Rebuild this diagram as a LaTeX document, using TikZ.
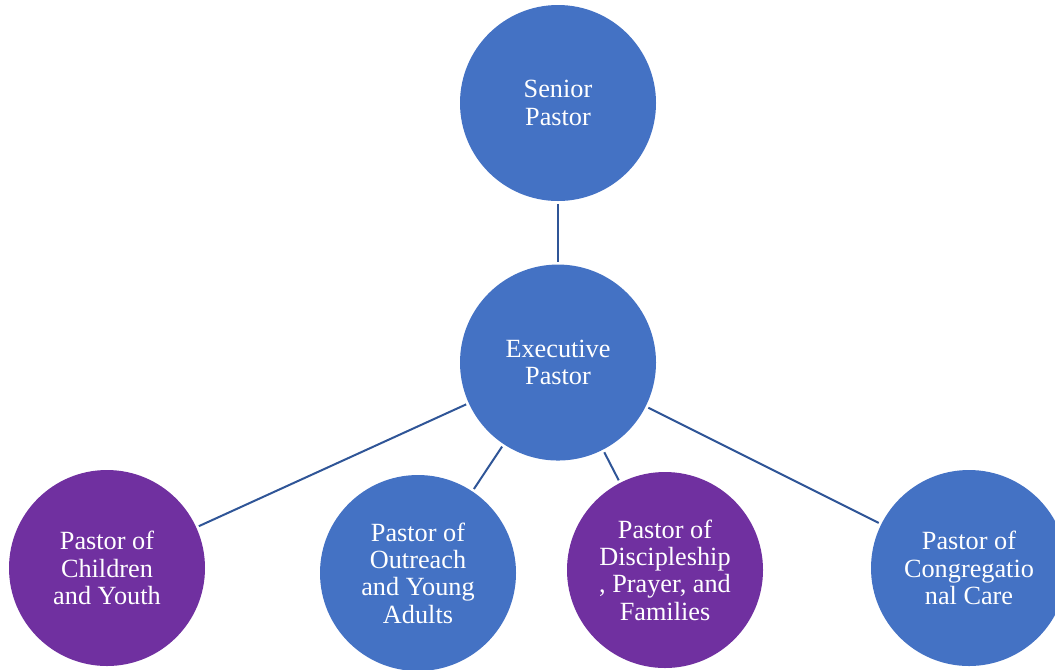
\documentclass[tikz,border=0pt]{standalone}
\usepackage{fontspec}
\setmainfont{Liberation Serif}
\usetikzlibrary{positioning}

\definecolor{pastorblue}{HTML}{4472C4}
\definecolor{pastorpurple}{HTML}{7030A0}
\definecolor{edgeblue}{HTML}{2F5597}

\begin{document}
\begin{tikzpicture}
[x=0.75pt,y=-0.75pt,
node distance=47.25pt,
pastor/.style={shape=circle,minimum size=147pt,inner sep=0pt,text=white,align=center,
  font=\fontsize{19.7}{20.5}\selectfont},
bluepastor/.style={pastor,fill=pastorblue},
purplepastor/.style={pastor,fill=pastorpurple},
myedge/.style={line width=1.5pt,color=edgeblue,shorten >=2pt,shorten <=2pt}]

\useasboundingbox (0,0) rectangle (1055,669);
\clip (0,0) rectangle (1055,669);

\node (senior) [bluepastor] at (558,103) {Senior\\Pastor};
\node (exec) [bluepastor,below=of senior] {Executive\\Pastor};
\node (youth) [purplepastor] at (107,568) {Pastor of\\Children\\and Youth};
\node (outreach) [bluepastor] at (418,573) {Pastor of\\Outreach\\and Young\\Adults};
\node (disc) [purplepastor] at (665,570) {Pastor of\\Discipleship\\, Prayer, and\\Families};
\node (care) [bluepastor] at (969,568) {Pastor of\\Congregatio\\nal Care};

\draw[myedge] (senior) -- (exec);
\draw[myedge] (exec) -- (youth);
\draw[myedge] (exec) -- (outreach);
\draw[myedge] (exec) -- (disc);
\draw[myedge] (exec) -- (care);

\end{tikzpicture}
\end{document}
